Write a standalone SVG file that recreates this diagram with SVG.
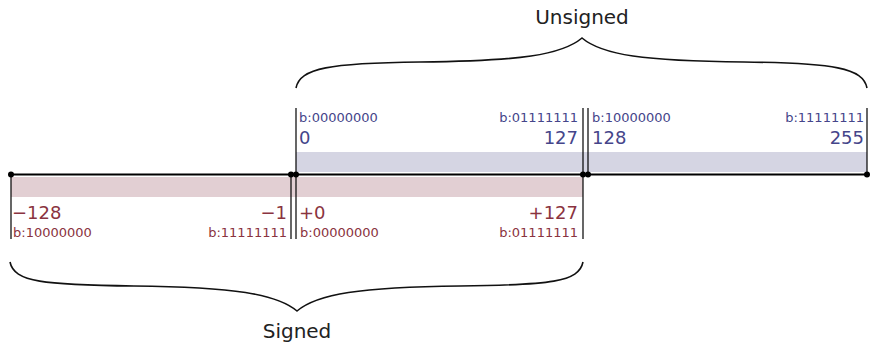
<svg xmlns="http://www.w3.org/2000/svg" width="872" height="343" viewBox="0 0 872 343">
<style>
  text { font-family: "DejaVu Sans", Verdana, sans-serif; }
  .u { fill: #45458a; }
  .s { fill: #8a3340; }
  .sm { font-size: 13px; }
  .lg { font-size: 18px; }
  .ttl { font-size: 20px; fill: #222; text-anchor: middle; }
  .end { text-anchor: end; }
  .ln { stroke: #000; stroke-width: 1.2; fill: none; }
  .axis { stroke: #000; stroke-width: 2.2; fill: none; }
  .brace { stroke: #111; stroke-width: 1.6; fill: none; }
</style>
<rect width="872" height="343" fill="#fff"/>
<g id="unsigned-band">
  <rect x="296" y="152" width="571" height="20" fill="#d5d5e3"/>
</g>
<g id="signed-band">
  <rect x="11" y="177" width="572" height="20" fill="#e2cfd3"/>
</g>
<g id="connectors">
  <line class="axis" x1="11" y1="174.5" x2="867" y2="174.5"/>
  <line class="ln" x1="11" y1="174" x2="11" y2="239"/>
  <line class="ln" x1="291" y1="174" x2="291" y2="239"/>
  <line class="ln" x1="296" y1="108" x2="296" y2="239"/>
  <line class="ln" x1="583" y1="108" x2="583" y2="239"/>
  <line class="ln" x1="588" y1="108" x2="588" y2="174"/>
  <line class="ln" x1="867" y1="108" x2="867" y2="174"/>
  <circle cx="11" cy="174.5" r="3"/>
  <circle cx="291" cy="174.5" r="3"/>
  <circle cx="296" cy="174.5" r="3"/>
  <circle cx="583" cy="174.5" r="3"/>
  <circle cx="588" cy="174.5" r="3"/>
  <circle cx="867" cy="174.5" r="3"/>
</g>
<g id="unsigned-low">
  <text class="u sm" x="299" y="121.5">b:00000000</text>
  <text class="u lg" x="299" y="144">0</text>
  <text class="u sm end" x="578" y="121.5">b:01111111</text>
  <text class="u lg end" x="578" y="144">127</text>
</g>
<g id="unsigned-high">
  <text class="u sm" x="592" y="121.5">b:10000000</text>
  <text class="u lg" x="592" y="144">128</text>
  <text class="u sm end" x="864" y="121.5">b:11111111</text>
  <text class="u lg end" x="864" y="144">255</text>
</g>
<g id="signed-negative">
  <text class="s lg" x="12" y="219">−128</text>
  <text class="s sm" x="13" y="236.5">b:10000000</text>
  <text class="s lg end" x="287" y="219">−1</text>
  <text class="s sm end" x="287" y="236.5">b:11111111</text>
</g>
<g id="signed-positive">
  <text class="s lg" x="299" y="219">+0</text>
  <text class="s sm" x="300" y="236.5">b:00000000</text>
  <text class="s lg end" x="578" y="219">+127</text>
  <text class="s sm end" x="578" y="236.5">b:01111111</text>
</g>
<g id="unsigned-brace">
  <path class="brace" d="M296,88 C300,68 330,63 420,62 C520,61 562,55 582,38 C602,55 644,61 744,62 C834,63 863,68 867,88"/>
  <text class="ttl" x="582" y="24">Unsigned</text>
</g>
<g id="signed-brace">
  <path class="brace" d="M10,262 C14,282 44,285 134,286 C234,287 277,294 297,311 C317,294 360,287 460,286 C550,285 579,282 583,262"/>
  <text class="ttl" x="297" y="338">Signed</text>
</g>
</svg>
